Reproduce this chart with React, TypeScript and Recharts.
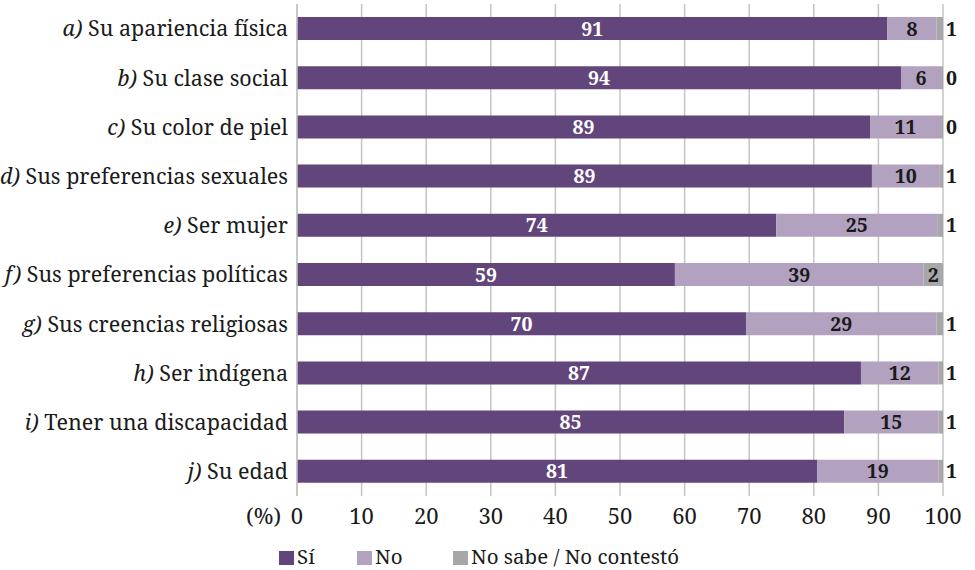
import { BarChart, Bar, XAxis, YAxis, CartesianGrid, LabelList } from "recharts";

const letters = ["a)", "b)", "c)", "d)", "e)", "f)", "g)", "h)", "i)", "j)"];
const categories = [
  "Su apariencia física",
  "Su clase social",
  "Su color de piel",
  "Sus preferencias sexuales",
  "Ser mujer",
  "Sus preferencias políticas",
  "Sus creencias religiosas",
  "Ser indígena",
  "Tener una discapacidad",
  "Su edad",
];

// bar lengths
const siValues = [91.4, 93.5, 88.7, 89.0, 74.2, 58.5, 69.5, 87.3, 84.7, 80.5];
const noValues = [7.6, 6.2, 11.0, 10.5, 24.9, 38.5, 29.5, 12.0, 14.6, 18.8];
const nsValues = [1.0, 0.3, 0.3, 0.5, 0.9, 3.0, 1.0, 0.7, 0.7, 0.7];

// printed labels
const siLabels = [91, 94, 89, 89, 74, 59, 70, 87, 85, 81];
const noLabels = [8, 6, 11, 10, 25, 39, 29, 12, 15, 19];
const nsLabels = [1, 0, 0, 1, 1, 2, 1, 1, 1, 1];

const xTicks = [0, 10, 20, 30, 40, 50, 60, 70, 80, 90, 100];

const seriesNames = ["Sí", "No", "No sabe / No contestó"];
const colors = ["#62457a", "#b2a2c0", "#a7a7a9"];

const FONT = "Noto Serif";
const TEXT = "#1a1a1a";

const data = categories.map((name, i) => ({
  name,
  letter: letters[i],
  si: siValues[i],
  no: noValues[i],
  ns: nsValues[i],
  siLabel: siLabels[i],
  noLabel: noLabels[i],
  nsLabel: nsLabels[i],
}));

const CategoryTick = (props: any) => {
  const { x, y, payload } = props;
  const i = categories.indexOf(payload.value);
  return (
    <text x={x} y={y} dy="0.36em" textAnchor="end" fontSize={21.5} fontFamily={FONT} fill={TEXT}>
      <tspan fontStyle="italic">{letters[i]}</tspan>
      <tspan>{" " + payload.value}</tspan>
    </text>
  );
};

const PercentTick = (props: any) => {
  const { x, y, payload } = props;
  return (
    <g>
      {payload.value === 0 && (
        <text x={x - 16} y={y} dy="0.71em" textAnchor="end" fontSize={22} fontFamily={FONT} fill={TEXT}>
          (%)
        </text>
      )}
      <text x={x} y={y} dy="0.71em" textAnchor="middle" fontSize={22} fontFamily={FONT} fill={TEXT}>
        {payload.value}
      </text>
    </g>
  );
};

const makeLabel = (fill: string, outside: boolean) => (props: any) => {
  const { x, y, width, height, value } = props;
  const inside = !outside || width > 12;
  return (
    <text
      x={inside ? x + width / 2 : x + width + 3}
      y={y + height / 2}
      dy="0.36em"
      textAnchor={inside ? "middle" : "start"}
      fontSize={19.5}
      fontWeight="bold"
      fontFamily={FONT}
      fill={fill}
    >
      {value}
    </text>
  );
};

const legendX = [279, 357, 453];

const Legend = () => (
  <svg width={975} height={570} style={{ position: "absolute", left: 0, top: 0, pointerEvents: "none" }}>
    {seriesNames.map((s, i) => (
      <g key={s}>
        <rect x={legendX[i]} y={551} width={15} height={14} fill={colors[i]} />
        <text x={legendX[i] + 18} y={564} fontSize={20.5} fontFamily={FONT} fill={TEXT}>
          {s}
        </text>
      </g>
    ))}
  </svg>
);

export default function App() {
  return (
    <div style={{ position: "absolute", left: 0, top: 0, width: 975, height: 570, background: "#fff" }}>
      <BarChart
        width={975}
        height={570}
        data={data}
        layout="vertical"
        margin={{ top: 4, right: 32, bottom: 44, left: 7 }}
        barCategoryGap={0}
      >
        <CartesianGrid horizontal={false} stroke="#c4c4c4" strokeWidth={1.5} />
        <XAxis
          type="number"
          domain={[0, 100]}
          ticks={xTicks}
          axisLine={false}
          tickLine={false}
          tickSize={0}
          tickMargin={12}
          height={30}
          tick={<PercentTick />}
          interval={0}
        />
        <YAxis
          type="category"
          dataKey="name"
          width={290}
          axisLine={{ stroke: "#c4c4c4", strokeWidth: 1.5 }}
          tickLine={false}
          tickSize={0}
          tickMargin={9}
          tick={<CategoryTick />}
          interval={0}
        />
        <Bar dataKey="si" stackId="a" fill={colors[0]} barSize={23} isAnimationActive={false}>
          <LabelList dataKey="siLabel" content={makeLabel("#ffffff", false)} />
        </Bar>
        <Bar dataKey="no" stackId="a" fill={colors[1]} barSize={23} isAnimationActive={false}>
          <LabelList dataKey="noLabel" content={makeLabel(TEXT, false)} />
        </Bar>
        <Bar dataKey="ns" stackId="a" fill={colors[2]} barSize={23} isAnimationActive={false}>
          <LabelList dataKey="nsLabel" content={makeLabel(TEXT, true)} />
        </Bar>
      </BarChart>
      <Legend />
    </div>
  );
}
